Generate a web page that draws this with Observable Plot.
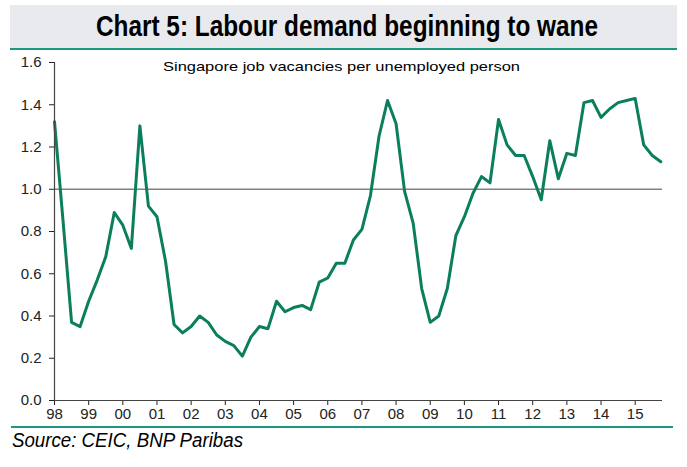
<!DOCTYPE html>
<html><head><meta charset="utf-8">
<script src="https://cdn.jsdelivr.net/npm/d3@7"></script>
<script src="https://cdn.jsdelivr.net/npm/@observablehq/plot@0.6"></script>
<style>
html,body{margin:0;padding:0;background:#fff;}
body{width:687px;height:467px;position:relative;overflow:hidden;font-family:"Liberation Sans",Arial,sans-serif;}
#band{position:absolute;left:10px;top:5px;width:667px;height:43px;background:#e8eaed;border-bottom:2px solid #1a9a82;}
#title{position:absolute;top:9px;left:347px;white-space:nowrap;font-weight:bold;font-size:29px;line-height:34px;color:#000;transform-origin:0 0;}
#sub{position:absolute;top:59px;left:341px;white-space:nowrap;font-size:13.5px;line-height:16px;color:#000;transform-origin:0 0;}
#chart{position:absolute;left:0;top:50px;}
#rule2{position:absolute;left:11px;top:426px;width:662px;height:2px;background:#1a9a82;}
#src{position:absolute;left:12px;top:429px;white-space:nowrap;font-style:italic;font-size:20px;line-height:23px;color:#000;transform-origin:0 0;}
</style></head>
<body>
<div id="band"></div>
<div id="title">Chart 5: Labour demand beginning to wane</div>
<div id="chart"></div>
<div id="sub">Singapore job vacancies per unemployed person</div>
<div id="rule2"></div>
<div id="src">Source: CEIC, BNP Paribas</div>
<script>
// Quarterly data, 1998Q1 .. 2015Q4
const startYear = 1998;
const vacanciesPerUnemployed = [
  1.32, 0.85, 0.37, 0.35, 0.47, 0.57, 0.68, 0.89, 0.83, 0.72,
  1.30, 0.92, 0.87, 0.66, 0.36, 0.32, 0.35, 0.40, 0.37, 0.31,
  0.28, 0.26, 0.21, 0.30, 0.35, 0.34, 0.47, 0.42, 0.44, 0.45,
  0.43, 0.56, 0.58, 0.65, 0.65, 0.76, 0.81, 0.97, 1.25, 1.42,
  1.31, 0.99, 0.84, 0.53, 0.37, 0.40, 0.53, 0.78, 0.87, 0.98,
  1.06, 1.03, 1.33, 1.21, 1.16, 1.16, 1.06, 0.95, 1.23, 1.05,
  1.17, 1.16, 1.41, 1.42, 1.34, 1.38, 1.41, 1.42, 1.43, 1.21,
  1.16, 1.13
];
const yearTicks = [1998,1999,2000,2001,2002,2003,2004,2005,2006,2007,2008,2009,2010,2011,2012,2013,2014,2015];
const yearLabels = ["98","99","00","01","02","03","04","05","06","07","08","09","10","11","12","13","14","15"];
const yTicks = [0,0.2,0.4,0.6,0.8,1.0,1.2,1.4,1.6];
const refLine = [1.0];

const data = vacanciesPerUnemployed.map((v, i) => ({t: startYear + i / 4, v}));

const chart = Plot.plot({
  width: 687, height: 376,
  marginTop: 12, marginBottom: 26, marginLeft: 54, marginRight: 25,
  style: {fontFamily: "'Liberation Sans', Arial, sans-serif", fontSize: "15px", color: "#222", background: "transparent"},
  x: {domain: [1998, 2015.8], ticks: yearTicks, tickFormat: d => yearLabels[yearTicks.indexOf(d)], tickSize: 5, tickPadding: 3, label: null},
  y: {domain: [0, 1.6], ticks: yTicks, tickFormat: d => d.toFixed(1), tickSize: 5, tickPadding: 8, label: null},
  marks: [
    Plot.ruleY(refLine, {stroke: "#808080", strokeWidth: 1.5}),
    Plot.line(data, {x: "t", y: "v", stroke: "#0b7f5d", strokeWidth: 3}),
    Plot.ruleX([1998], {stroke: "#444", strokeWidth: 1.2}),
    Plot.ruleY([0], {stroke: "#444", strokeWidth: 1.2})
  ]
});
document.getElementById("chart").appendChild(chart);

function fit(id, targetWidth, centerX) {
  const el = document.getElementById(id);
  const w = el.getBoundingClientRect().width;
  const k = targetWidth / w;
  if (centerX != null) {
    el.style.left = (centerX - targetWidth / 2) + "px";
  }
  el.style.transform = `scaleX(${k})`;
}
fit("title", 502, 347);
fit("sub", 357, 341.5);
fit("src", 231, null);
</script>
</body></html>
